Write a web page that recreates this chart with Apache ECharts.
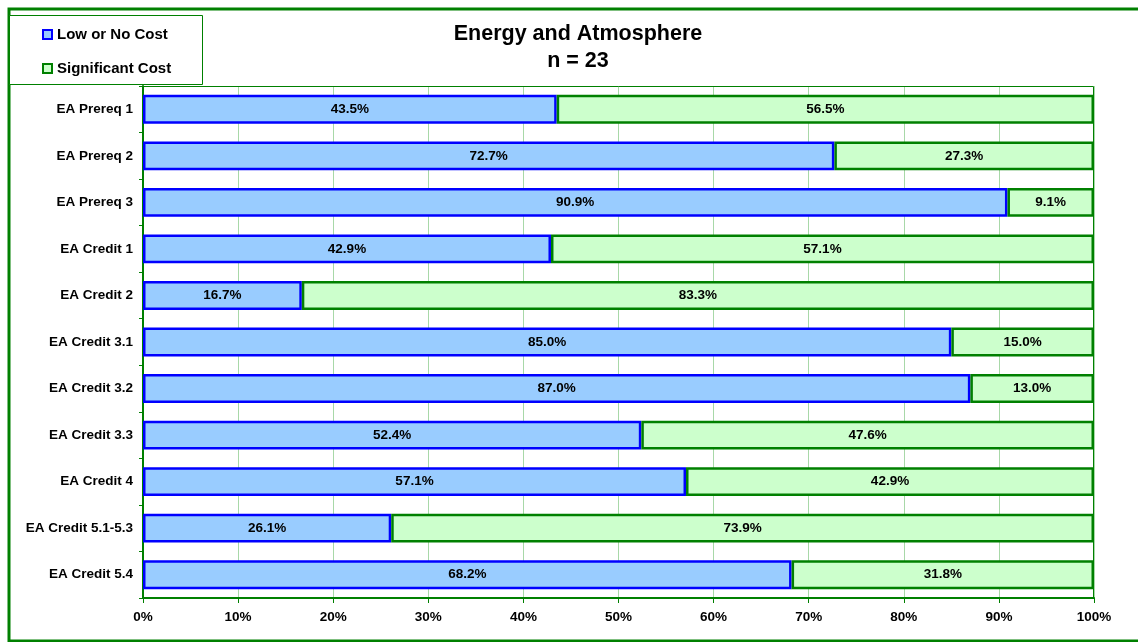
<!DOCTYPE html>
<html><head><meta charset="utf-8">
<script src="https://cdn.jsdelivr.net/npm/echarts@6/dist/echarts.min.js"></script>
<style>html,body{margin:0;padding:0;background:#fff}#c{width:1138px;height:642px}</style>
</head><body><div id="c"></div>
<script>
const categories = ['EA Prereq 1','EA Prereq 2','EA Prereq 3','EA Credit 1','EA Credit 2','EA Credit 3.1','EA Credit 3.2','EA Credit 3.3','EA Credit 4','EA Credit 5.1-5.3','EA Credit 5.4'];
const lowCost = [43.5,72.7,90.9,42.9,16.7,85.0,87.0,52.4,57.1,26.1,68.2];
const sigCost = [56.5,27.3,9.1,57.1,83.3,15.0,13.0,47.6,42.9,73.9,31.8];
const xTicks = [0,10,20,30,40,50,60,70,80,90,100];

const chart = echarts.init(document.getElementById('c'));
const font = 'Arial, "Liberation Sans", sans-serif';
const lbl = {show:true, position:'inside', color:'#000', fontWeight:'bold', fontSize:13.5, fontFamily:font,
  formatter: p => p.value.toFixed(1) + '%'};
chart.setOption({
  animation:false,
  title:{text:'Energy and Atmosphere\nn = 23', left:573, textAlign:'center', top:16,
    textStyle:{fontSize:21.5, fontWeight:'bold', fontFamily:font, color:'#000', lineHeight:27}},
  graphic:[
    {type:'rect', shape:{x:9, y:9, width:1140, height:632}, style:{fill:null, stroke:'#008000', lineWidth:3}, z:-1},
    {type:'rect', shape:{x:9.5, y:15.5, width:193, height:69}, style:{fill:'#fff', stroke:'#008000', lineWidth:1}, z:5},
    {type:'rect', shape:{x:143.5, y:86.5, width:950, height:512}, style:{fill:null, stroke:'#008000', lineWidth:1}, z:1}
  ],
  legend:{orient:'vertical', left:37, top:22, itemWidth:9, itemHeight:9, itemGap:19, icon:'rect', z:10,
    textStyle:{fontSize:15, fontWeight:'bold', fontFamily:font, color:'#000'},
    data:['Low or No Cost','Significant Cost']},
  grid:{left:143, right:44, top:86, bottom:44},
  xAxis:{type:'value', min:0, max:100, interval:10,
    axisLabel:{formatter: v => v + '%', fontSize:13.5, fontWeight:'bold', fontFamily:font, color:'#000', margin:12},
    axisLine:{show:true, lineStyle:{color:'#008000', width:2}},
    axisTick:{show:true, length:5, lineStyle:{color:'#008000'}},
    splitLine:{show:true, lineStyle:{color:'#a8d8a8', width:1}}},
  yAxis:{type:'category', data:categories, inverse:true,
    axisLabel:{fontSize:13.5, fontWeight:'bold', fontFamily:font, color:'#000', margin:10},
    axisLine:{show:true, lineStyle:{color:'#008000', width:2}},
    axisTick:{show:true, length:4, lineStyle:{color:'#008000'}}},
  series:[
    {name:'Low or No Cost', type:'bar', stack:'t', data:lowCost, barWidth:'62%', label:lbl,
      itemStyle:{color:'#99CCFF', borderColor:'#0000FF', borderWidth:2.5}},
    {name:'Significant Cost', type:'bar', stack:'t', data:sigCost, barWidth:'62%', label:lbl,
      itemStyle:{color:'#CCFFCC', borderColor:'#008000', borderWidth:2.5}}
  ]
});
</script></body></html>
